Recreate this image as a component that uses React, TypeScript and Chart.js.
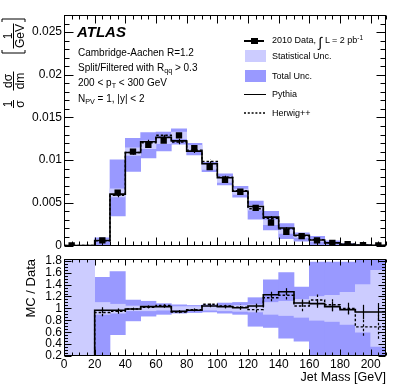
import React, { useEffect, useRef } from "react";
import { Chart, registerables } from "chart.js";

Chart.register(...registerables);

const FONT = '"Liberation Sans", Arial, Helvetica, sans-serif';
const LIGHT = "#ccccff";
const DARK = "#9999ff";

// ---------- data ----------
const BIN_EDGES = [0, 10, 20, 30, 40, 50, 60, 70, 80, 90, 100, 110, 120, 130, 140, 150, 160, 170, 180, 190, 200, 210];
const BIN_CENTERS = [5, 15, 25, 35, 45, 55, 65, 75, 85, 95, 105, 115, 125, 135, 145, 155, 165, 175, 185, 195, 205];
const DATA = [0, null, 0.0006, 0.0062, 0.011, 0.0118, 0.0123, 0.0129, 0.0114, 0.0092, 0.0077, 0.0063, 0.0044, 0.0027, 0.0016, 0.0011, 0.0006, 0.0003, 0.00015, 0.00005, 0.00001];
const PYTHIA_RATIO = [0, 0, 0.97, 0.97, 0.99, 1.03, 1.03, 0.95, 0.97, 1.04, 1.03, 1.01, 1.04, 1.23, 1.28, 1.09, 1.08, 1.03, 0.98, 0.94, 0.94];
const HERWIG_RATIO = [0, 0, 0.93, 0.95, 0.99, 1.02, 1.05, 0.94, 0.98, 1.07, 1.04, 1.02, 0.98, 1.18, 1.22, 1.04, 1.14, 1.06, 1.0, 0.69, 0.69];
const PYTHIA_ERR = [0, 0, 0.05, 0.03, 0.02, 0.02, 0.02, 0.02, 0.02, 0.02, 0.03, 0.03, 0.04, 0.05, 0.06, 0.06, 0.07, 0.08, 0.08, 0.12, 0.15];
const HERWIG_ERR = [0, 0, 0.06, 0.04, 0.02, 0.02, 0.02, 0.02, 0.02, 0.03, 0.03, 0.04, 0.05, 0.06, 0.07, 0.09, 0.1, 0.1, 0.1, 0.15, 0.2];
const STAT_LO = [0, 0, 0.9, 0.92, 0.96, 0.96, 0.97, 0.97, 0.97, 0.97, 0.96, 0.95, 0.94, 0.9, 0.88, 0.85, 0.8, 0.78, 0.73, 0.6, 0.36];
const STAT_HI = [2, 2, 1.1, 1.07, 1.04, 1.04, 1.03, 1.03, 1.03, 1.03, 1.04, 1.05, 1.06, 1.1, 1.12, 1.15, 1.2, 1.22, 1.27, 1.4, 1.64];
const TOT_LO = [0, 0, 0, 0.56, 0.79, 0.87, 0.9, 0.92, 0.93, 0.94, 0.92, 0.9, 0.7, 0.68, 0.5, 0.45, 0, 0, 0, 0, 0];
const TOT_HI = [2, 2, 1.52, 1.62, 1.14, 1.12, 1.08, 1.06, 1.05, 1.06, 1.09, 1.1, 1.18, 1.48, 1.6, 1.36, 1.78, 1.78, 1.78, 2, 2];

const TOP_Y_TICKS = [0, 0.005, 0.01, 0.015, 0.02, 0.025];
const TOP_Y_LABELS = ["0", "0.005", "0.01", "0.015", "0.02", "0.025"];
const RATIO_Y_TICKS = [0.2, 0.4, 0.6, 0.8, 1, 1.2, 1.4, 1.6, 1.8];
const RATIO_Y_LABELS = ["0.2", "0.4", "0.6", "0.8", "1", "1.2", "1.4", "1.6", "1.8"];
const X_TICKS = [0, 20, 40, 60, 80, 100, 120, 140, 160, 180, 200];
const X_LABELS = ["0", "20", "40", "60", "80", "100", "120", "140", "160", "180", "200"];

// ---------- helpers ----------
const dval = (i: number) => (DATA[i] == null ? 0 : (DATA[i] as number));
const stepData = (vals: number[]) =>
  BIN_EDGES.map((x, i) => ({ x, y: vals[Math.min(i, vals.length - 1)] }));
const fixedTicks = (values: number[]) => (scale: any) => {
  scale.ticks = values.map((v) => ({ value: v }));
};
const labelFrom = (values: number[], labels: string[]) => (val: any) => {
  const i = values.findIndex((v) => Math.abs(v - Number(val)) < 1e-9);
  return i >= 0 ? labels[i] : "";
};
const noPad = (s: any) => {
  s.paddingTop = 0;
  s.paddingBottom = 0;
  s.paddingLeft = 0;
  s.paddingRight = 0;
};

// ---------- plugins ----------
const framePlugin = {
  id: "frame",
  afterDatasetsDraw(chart: any, _args: any, o: any) {
    const { ctx, chartArea, scales } = chart;
    const x = scales.x;
    const y = scales.y;
    const L = Math.round(chartArea.left) + 0.5;
    const R = Math.round(chartArea.right) - 0.5;
    const T = Math.round(chartArea.top) + 0.5;
    const B = Math.round(chartArea.bottom) - 0.5;
    ctx.save();
    ctx.strokeStyle = "#000";
    ctx.lineWidth = 1;
    ctx.setLineDash([]);
    ctx.beginPath();
    // x ticks
    const nx = Math.round((x.max - x.min) / o.xMinor);
    for (let i = 0; i <= nx; i++) {
      const v = x.min + i * o.xMinor;
      if (v > x.max + 1e-9) break;
      const r = v / o.xMajor;
      const major = Math.abs(r - Math.round(r)) < 1e-6;
      const len = major ? o.xMajorLen : o.xMinorLen;
      const px = Math.round(x.getPixelForValue(v)) + 0.5;
      ctx.moveTo(px, B);
      ctx.lineTo(px, B - len);
      ctx.moveTo(px, T);
      ctx.lineTo(px, T + len);
    }
    // y ticks
    const start = Math.ceil(y.min / o.yMinor - 1e-6);
    const end = Math.floor(y.max / o.yMinor + 1e-6);
    for (let k = start; k <= end; k++) {
      const v = k * o.yMinor;
      const r = v / o.yMajor;
      const major = Math.abs(r - Math.round(r)) < 1e-6;
      const len = major ? o.yMajorLen : o.yMinorLen;
      const py = Math.round(y.getPixelForValue(v)) + 0.5;
      ctx.moveTo(L, py);
      ctx.lineTo(L + len, py);
      ctx.moveTo(R, py);
      ctx.lineTo(R - len, py);
    }
    ctx.stroke();
    ctx.strokeRect(L, T, R - L, B - T);
    ctx.restore();
  },
};

const errorBarPlugin = {
  id: "errbars",
  afterDatasetsDraw(chart: any) {
    const { ctx, chartArea, scales } = chart;
    const x = scales.x;
    const y = scales.y;
    ctx.save();
    ctx.beginPath();
    ctx.rect(chartArea.left, chartArea.top, chartArea.width, chartArea.height);
    ctx.clip();
    chart.data.datasets.forEach((ds: any) => {
      if (!ds.errBars) return;
      ctx.strokeStyle = "#000";
      ctx.lineWidth = 1.2;
      ctx.setLineDash(ds.borderDash || []);
      ds.errBars.forEach((e: any) => {
        if (!e) return;
        const px = Math.round(x.getPixelForValue(e.x)) + 0.5;
        ctx.beginPath();
        ctx.moveTo(px, y.getPixelForValue(e.lo));
        ctx.lineTo(px, y.getPixelForValue(e.hi));
        ctx.stroke();
      });
    });
    ctx.restore();
  },
};

const yTitlePlugin = {
  id: "ytitle",
  afterDraw(chart: any) {
    const ctx = chart.ctx as CanvasRenderingContext2D;
    ctx.save();
    ctx.translate(13.5, 62);
    ctx.rotate(-Math.PI / 2);
    ctx.fillStyle = "#000";
    ctx.strokeStyle = "#000";
    ctx.lineWidth = 1;
    ctx.font = `12px ${FONT}`;
    ctx.textAlign = "center";
    const frac = (cx: number, num: string, den: string, w: number) => {
      ctx.textBaseline = "alphabetic";
      ctx.fillText(num, cx, -2);
      ctx.textBaseline = "top";
      ctx.fillText(den, cx, 1.5);
      ctx.beginPath();
      ctx.moveTo(cx - w / 2, 0);
      ctx.lineTo(cx + w / 2, 0);
      ctx.stroke();
    };
    frac(-42, "1", "σ", 8);
    frac(-19, "dσ", "dm", 19);
    frac(26, "1", "GeV", 25);
    const br = (bx: number, dir: number) => {
      ctx.beginPath();
      ctx.moveTo(bx + dir * 3, -11.5);
      ctx.lineTo(bx, -11.5);
      ctx.lineTo(bx, 11.5);
      ctx.lineTo(bx + dir * 3, 11.5);
      ctx.stroke();
    };
    br(9, 1);
    br(43, -1);
    ctx.restore();
  },
};

// ---------- configs ----------
function topConfig(): any {
  const tot = BIN_CENTERS.map((x, i) => ({ x, y: [dval(i) * TOT_LO[i], dval(i) * TOT_HI[i]] }));
  const stat = BIN_CENTERS.map((x, i) => ({ x, y: [dval(i) * STAT_LO[i], dval(i) * STAT_HI[i]] }));
  const py = PYTHIA_RATIO.map((r, i) => dval(i) * r);
  const hw = HERWIG_RATIO.map((r, i) => dval(i) * r);
  const pts = BIN_CENTERS.map((x, i) => (DATA[i] == null ? null : { x, y: DATA[i] })).filter((p) => p);
  const pyErr = BIN_CENTERS.map((x, i) => (dval(i) > 0 ? { x, lo: py[i] - dval(i) * PYTHIA_ERR[i], hi: py[i] + dval(i) * PYTHIA_ERR[i] } : null));
  const hwErr = BIN_CENTERS.map((x, i) => (dval(i) > 0 ? { x, lo: hw[i] - dval(i) * HERWIG_ERR[i], hi: hw[i] + dval(i) * HERWIG_ERR[i] } : null));
  return {
    type: "bar",
    data: {
      datasets: [
        { type: "bar", label: "Total Unc.", data: tot, backgroundColor: DARK, borderWidth: 0, barPercentage: 1, categoryPercentage: 1, grouped: false, order: 5 },
        { type: "bar", label: "Statistical Unc.", data: stat, backgroundColor: LIGHT, borderWidth: 0, barPercentage: 1, categoryPercentage: 1, grouped: false, order: 4 },
        { type: "line", label: "Pythia", data: stepData(py), stepped: "before", borderColor: "#000", borderWidth: 1.6, pointRadius: 0, fill: false, order: 3, errBars: pyErr },
        { type: "line", label: "Herwig++", data: stepData(hw), stepped: "before", borderColor: "#000", borderWidth: 1.4, borderDash: [2.5, 2], pointRadius: 0, fill: false, order: 2, errBars: hwErr },
        { type: "line", label: "2010 Data", data: pts, showLine: false, pointStyle: "rect", pointRadius: 4.5, pointBackgroundColor: "#000", pointBorderWidth: 0, order: 1 },
      ],
    },
    options: {
      animation: false,
      responsive: false,
      events: [],
      layout: { padding: { top: 15, right: 21, bottom: 4, left: 0 } },
      plugins: {
        legend: { display: false },
        tooltip: { enabled: false },
        frame: { xMinor: 5, xMajor: 20, xMajorLen: 8, xMinorLen: 4, yMinor: 0.001, yMajor: 0.005, yMajorLen: 9, yMinorLen: 5 },
      },
      scales: {
        x: { type: "linear", min: 0, max: 210, offset: false, display: false, afterFit: noPad },
        y: {
          type: "linear",
          min: 0,
          max: 0.027,
          afterBuildTicks: fixedTicks(TOP_Y_TICKS),
          afterFit: (s: any) => {
            s.width = 64;
            noPad(s);
          },
          ticks: { callback: labelFrom(TOP_Y_TICKS, TOP_Y_LABELS), font: { size: 12, family: FONT }, color: "#000", padding: 2 },
          grid: { display: false, drawTicks: false },
          border: { display: false },
        },
      },
    },
    plugins: [framePlugin, errorBarPlugin, yTitlePlugin],
  };
}

function ratioConfig(): any {
  const tot = BIN_CENTERS.map((x, i) => ({ x, y: [TOT_LO[i], TOT_HI[i]] }));
  const stat = BIN_CENTERS.map((x, i) => ({ x, y: [STAT_LO[i], STAT_HI[i]] }));
  const pyErr = BIN_CENTERS.map((x, i) => (PYTHIA_RATIO[i] > 0 ? { x, lo: PYTHIA_RATIO[i] - PYTHIA_ERR[i], hi: PYTHIA_RATIO[i] + PYTHIA_ERR[i] } : null));
  const hwErr = BIN_CENTERS.map((x, i) => (HERWIG_RATIO[i] > 0 ? { x, lo: HERWIG_RATIO[i] - HERWIG_ERR[i], hi: HERWIG_RATIO[i] + HERWIG_ERR[i] } : null));
  return {
    type: "bar",
    data: {
      datasets: [
        { type: "bar", label: "Total Unc.", data: tot, backgroundColor: DARK, borderWidth: 0, barPercentage: 1, categoryPercentage: 1, grouped: false, order: 5 },
        { type: "bar", label: "Statistical Unc.", data: stat, backgroundColor: LIGHT, borderWidth: 0, barPercentage: 1, categoryPercentage: 1, grouped: false, order: 4 },
        { type: "line", label: "Pythia", data: stepData(PYTHIA_RATIO), stepped: "before", borderColor: "#000", borderWidth: 1.6, pointRadius: 0, fill: false, order: 3, errBars: pyErr },
        { type: "line", label: "Herwig++", data: stepData(HERWIG_RATIO), stepped: "before", borderColor: "#000", borderWidth: 1.4, borderDash: [2.5, 2], pointRadius: 0, fill: false, order: 2, errBars: hwErr },
      ],
    },
    options: {
      animation: false,
      responsive: false,
      events: [],
      layout: { padding: { top: 9, right: 21, bottom: 0, left: 0 } },
      plugins: {
        legend: { display: false },
        tooltip: { enabled: false },
        frame: { xMinor: 5, xMajor: 20, xMajorLen: 6, xMinorLen: 3, yMinor: 0.05, yMajor: 0.2, yMajorLen: 7, yMinorLen: 3.5 },
      },
      scales: {
        x: {
          type: "linear",
          min: 0,
          max: 210,
          offset: false,
          afterBuildTicks: fixedTicks(X_TICKS),
          afterFit: (s: any) => {
            s.height = 35;
            noPad(s);
          },
          ticks: { callback: labelFrom(X_TICKS, X_LABELS), font: { size: 12, family: FONT }, color: "#000", padding: 1, maxRotation: 0, autoSkip: false },
          grid: { display: false, drawTicks: false },
          border: { display: false },
          title: { display: true, text: "Jet Mass [GeV]", align: "end", color: "#000", font: { size: 12.5, family: FONT }, padding: { top: 0, bottom: 6 } },
        },
        y: {
          type: "linear",
          min: 0.2,
          max: 1.83,
          afterBuildTicks: fixedTicks(RATIO_Y_TICKS),
          afterFit: (s: any) => {
            s.width = 64;
            noPad(s);
          },
          ticks: { callback: labelFrom(RATIO_Y_TICKS, RATIO_Y_LABELS), font: { size: 12, family: FONT }, color: "#000", padding: 2, autoSkip: false },
          grid: { display: false, drawTicks: false },
          border: { display: false },
          title: { display: true, text: "MC / Data", align: "end", color: "#000", font: { size: 13, family: FONT }, padding: { top: 24, bottom: 0 } },
        },
      },
    },
    plugins: [framePlugin, errorBarPlugin],
  };
}

// ---------- component ----------
const abs = (left: number, top: number, size: number, extra: any = {}): React.CSSProperties => ({
  position: "absolute",
  left,
  top,
  fontSize: size,
  lineHeight: `${Math.round(size * 1.2)}px`,
  whiteSpace: "nowrap",
  fontFamily: FONT,
  color: "#000",
  ...extra,
});
const subStyle: React.CSSProperties = { fontSize: "0.72em", verticalAlign: "-0.3em", lineHeight: 0 };
const supStyle: React.CSSProperties = { fontSize: "0.72em", verticalAlign: "0.45em", lineHeight: 0 };

export default function App() {
  const topRef = useRef<HTMLCanvasElement | null>(null);
  const botRef = useRef<HTMLCanvasElement | null>(null);

  useEffect(() => {
    Chart.defaults.font.family = FONT;
    Chart.defaults.color = "#000";
    const top = new Chart(topRef.current as HTMLCanvasElement, topConfig());
    const bot = new Chart(botRef.current as HTMLCanvasElement, ratioConfig());
    return () => {
      top.destroy();
      bot.destroy();
    };
  }, []);

  return (
    <div style={{ position: "absolute", left: 0, top: 0, width: 407, height: 391, background: "#fff", overflow: "hidden" }}>
      <canvas ref={topRef} width={407} height={250} style={{ position: "absolute", left: 0, top: 0, width: 407, height: 250 }} />
      <canvas ref={botRef} width={407} height={141} style={{ position: "absolute", left: 0, top: 250, width: 407, height: 141 }} />

      {/* annotations */}
      <div style={abs(77, 23, 15, { fontWeight: "bold", fontStyle: "italic", lineHeight: "18px" })}>ATLAS</div>
      <div style={abs(78, 47, 10)}>Cambridge-Aachen R=1.2</div>
      <div style={abs(78, 62, 10)}>
        Split/Filtered with R<span style={subStyle}>qq</span> &gt; 0.3
      </div>
      <div style={abs(78, 77, 10)}>
        200 &lt; p<span style={subStyle}>T</span> &lt; 300 GeV
      </div>
      <div style={abs(78, 93, 10)}>
        N<span style={subStyle}>PV</span> = 1, |y| &lt; 2
      </div>

      {/* legend */}
      <div style={{ position: "absolute", left: 244, top: 40, width: 20, height: 1.5, background: "#000" }} />
      <div style={{ position: "absolute", left: 251, top: 37.5, width: 6.5, height: 6.5, background: "#000" }} />
      <div style={abs(272, 34.5, 9, { lineHeight: "11px" })}>
        2010 Data, <span style={{ fontSize: 14, verticalAlign: "-0.25em", lineHeight: 0 }}>∫</span> L = 2 pb<span style={supStyle}>-1</span>
      </div>

      <div style={{ position: "absolute", left: 245, top: 50, width: 21, height: 12, background: LIGHT }} />
      <div style={abs(272, 50.5, 9, { lineHeight: "11px" })}>Statistical Unc.</div>

      <div style={{ position: "absolute", left: 245, top: 69.5, width: 21, height: 12.5, background: DARK }} />
      <div style={abs(272, 71, 9, { lineHeight: "11px" })}>Total Unc.</div>

      <div style={{ position: "absolute", left: 244, top: 93.5, width: 22, height: 1.5, background: "#000" }} />
      <div style={abs(272, 88.5, 9, { lineHeight: "11px" })}>Pythia</div>

      <svg style={{ position: "absolute", left: 244, top: 110, width: 23, height: 6 }} width={23} height={6}>
        <line x1={0} y1={3} x2={22} y2={3} stroke="#000" strokeWidth={1.3} strokeDasharray="2 1.8" />
      </svg>
      <div style={abs(272, 107.5, 9, { lineHeight: "11px" })}>Herwig++</div>
    </div>
  );
}
